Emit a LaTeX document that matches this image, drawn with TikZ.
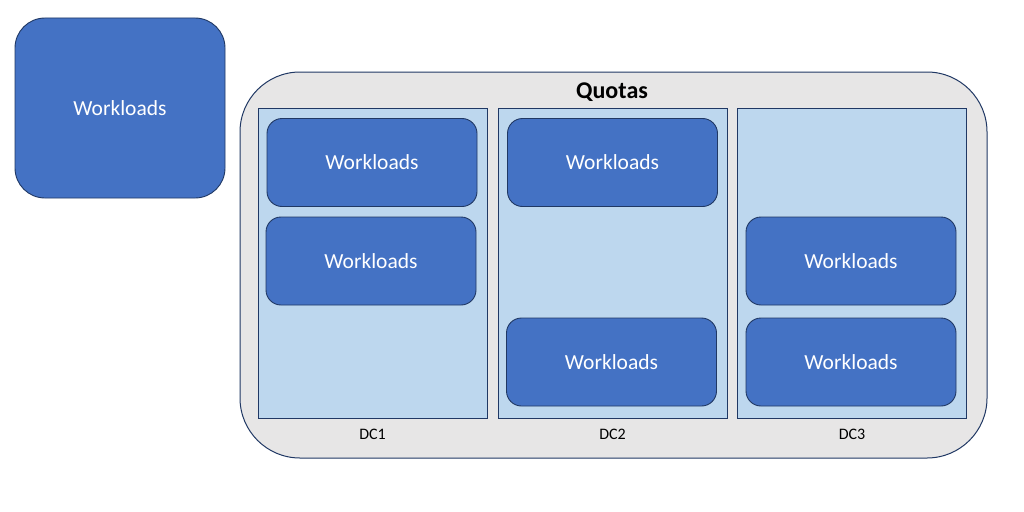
\documentclass[tikz,border=0pt]{standalone}
\usepackage{fontspec}
\setmainfont{Carlito}
\usetikzlibrary{positioning}

\definecolor{wlblue}{HTML}{4472C4}
\definecolor{wledge}{HTML}{203864}
\definecolor{dcblue}{HTML}{BDD7EE}
\definecolor{quotagray}{HTML}{E7E6E6}

\tikzset{
  wlbox/.style={draw=wledge, fill=wlblue, line width=0.9pt, rounded corners=15pt,
    minimum width=210pt, minimum height=88pt, inner sep=0pt, text=white,
    font=\fontsize{21.5}{24}\selectfont},
  dcbox/.style={draw=wledge, fill=dcblue, line width=0.9pt,
    minimum width=229pt, minimum height=310pt, inner sep=0pt},
  dclabel/.style={font=\fontsize{16}{18}\selectfont, inner sep=0pt}
}

\begin{document}
\begin{tikzpicture}[x=1pt, y=-1pt]

    \useasboundingbox (0,0) rectangle (1024,511);

    % single workloads on the left
    \node[wlbox, rounded corners=30pt, minimum width=210pt, minimum height=180pt] (wl) at (120,108) {Workloads};

    % quota container
    \node[draw=wledge, fill=quotagray, line width=1pt, rounded corners=60pt,
          minimum width=747pt, minimum height=386pt, inner sep=0pt] (quotas) at (613.5,265) {};
    \node[font=\fontsize{24}{26}\selectfont\bfseries, inner sep=0pt] (qlabel) at (612,92.5) {Quotas};

    % data centres
    \node[dcbox] (dc1) at (372.5,263) {};
    \node[dcbox] (dc2) at (612.5,263) {};
    \node[dcbox] (dc3) at (852,263) {};

    \node[dclabel, below=10pt of dc1] (dc1l) {DC1};
    \node[dclabel, below=10pt of dc2] (dc2l) {DC2};
    \node[dclabel, below=10pt of dc3] (dc3l) {DC3};

    % workloads per data centre
    \node[wlbox] (wla) at (372,162.5) {Workloads};
    \node[wlbox] (wlb) at (371,261) {Workloads};
    \node[wlbox] (wlc) at (612.5,162.5) {Workloads};
    \node[wlbox] (wld) at (611.5,362) {Workloads};
    \node[wlbox] (wle) at (851,261) {Workloads};
    \node[wlbox] (wlf) at (851,362) {Workloads};

\end{tikzpicture}
\end{document}
